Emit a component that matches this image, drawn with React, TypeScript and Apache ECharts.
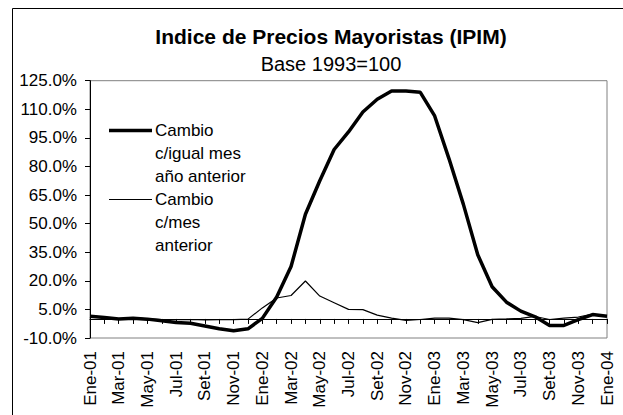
import React, { useEffect, useRef } from "react";
import * as echarts from "echarts";

const months: string[] = [
  "Ene-01", "Feb-01", "Mar-01", "Abr-01", "May-01", "Jun-01", "Jul-01", "Ago-01", "Set-01", "Oct-01", "Nov-01", "Dic-01",
  "Ene-02", "Feb-02", "Mar-02", "Abr-02", "May-02", "Jun-02", "Jul-02", "Ago-02", "Set-02", "Oct-02", "Nov-02", "Dic-02",
  "Ene-03", "Feb-03", "Mar-03", "Abr-03", "May-03", "Jun-03", "Jul-03", "Ago-03", "Set-03", "Oct-03", "Nov-03", "Dic-03",
  "Ene-04",
];

// Cambio c/igual mes año anterior (%)
const yearOverYear: number[] = [
  1.4, 0.7, 0.0, 0.4, -0.1, -0.9, -1.9, -2.3, -3.7, -5.1, -6.2, -5.2,
  0.3, 11.5, 27.5, 54.9, 72.5, 88.9, 98.1, 108.6, 115.3, 119.6, 119.6, 118.9,
  106.5, 84.0, 60.1, 33.7, 16.9, 8.8, 4.1, 1.1, -3.4, -3.4, -0.4, 2.3,
  1.4,
];

// Cambio c/mes anterior (%)
const monthOverMonth: number[] = [
  1.6, 0.8, 0.1, 0.7, 0.1, -0.3, -0.4, -0.3, -0.5, -0.4, -0.4, -0.1,
  5.8, 11.0, 12.3, 19.9, 12.0, 8.5, 5.0, 4.9, 2.0, 0.4, -0.8, -0.3,
  0.4, 0.4, -0.4, -1.9, -0.2, 0.0, 0.3, 1.3, -0.3, 0.4, 1.0, 2.5,
  1.2,
];

const seriesNames: string[] = ["Cambio\nc/igual mes\naño anterior", "Cambio\nc/mes\nanterior"];
const titleText = "Indice de Precios Mayoristas (IPIM)";
const subtitleText = "Base 1993=100";

const FONT = "'Liberation Sans', Arial, Helvetica, sans-serif";

export default function App() {
  const ref = useRef<HTMLDivElement>(null);

  useEffect(() => {
    if (!ref.current) return;
    const chart = echarts.init(ref.current, undefined, { renderer: "svg" });
    const option: any = {
      animation: false,
      backgroundColor: "#ffffff",
      textStyle: { fontFamily: FONT, color: "#000" },
      grid: {
        left: 90,
        right: 16,
        top: 80.7,
        bottom: 77,
        show: true,
        borderColor: "#808080",
        borderWidth: 1,
        backgroundColor: "transparent",
        outerBoundsMode: "none",
      },
      xAxis: [
        {
          type: "category",
          data: months,
          boundaryGap: false,
          position: "bottom",
          axisLine: { show: false, onZero: false },
          axisTick: { show: false },
          splitLine: { show: false },
          axisLabel: {
            interval: 1,
            rotate: 90,
            margin: 13,
            fontSize: 17,
            color: "#000",
            fontFamily: FONT,
          },
        },
        {
          type: "category",
          data: months,
          boundaryGap: false,
          position: "bottom",
          axisLine: { show: true, onZero: true, lineStyle: { color: "#000", width: 1 } },
          axisTick: { show: true, interval: 0, length: 5, lineStyle: { color: "#000", width: 1 } },
          axisLabel: { show: false },
          splitLine: { show: false },
        },
      ],
      yAxis: {
        type: "value",
        min: -10,
        max: 125,
        interval: 15,
        axisLine: { show: true, lineStyle: { color: "#000", width: 1 } },
        axisTick: { show: true, length: 5, lineStyle: { color: "#000" } },
        splitLine: { show: false },
        axisLabel: {
          formatter: (v: number) => v.toFixed(1) + "%",
          fontSize: 17,
          color: "#000",
          margin: 13,
          fontFamily: FONT,
        },
      },
      series: [
        {
          name: seriesNames[0],
          type: "line",
          xAxisIndex: 0,
          data: yearOverYear,
          symbol: "none",
          lineStyle: { color: "#000", width: 3.5 },
          z: 3,
        },
        {
          name: seriesNames[1],
          type: "line",
          xAxisIndex: 0,
          data: monthOverMonth,
          symbol: "none",
          lineStyle: { color: "#000", width: 1.2 },
          z: 4,
        },
      ],
      graphic: [
        {
          type: "rect",
          shape: { x: 12.5, y: 8.5, width: 640, height: 430 },
          style: { fill: "none", stroke: "#000", lineWidth: 1 },
          z: -1,
          silent: true,
        },
        {
          type: "text",
          x: 331,
          y: 36.5,
          style: {
            text: titleText,
            fontFamily: FONT,
            fontSize: 21,
            fontWeight: "bold",
            fill: "#000",
            align: "center",
            verticalAlign: "middle",
          },
        },
        {
          type: "text",
          x: 331,
          y: 63.5,
          style: {
            text: subtitleText,
            fontFamily: FONT,
            fontSize: 20,
            fill: "#000",
            align: "center",
            verticalAlign: "middle",
          },
        },
        {
          type: "line",
          shape: { x1: 109, y1: 130.5, x2: 152, y2: 130.5 },
          style: { stroke: "#000", lineWidth: 3.5 },
        },
        {
          type: "text",
          x: 155,
          y: 119,
          style: {
            text: seriesNames[0],
            fontFamily: FONT,
            fontSize: 17,
            lineHeight: 23,
            fill: "#000",
            align: "left",
            verticalAlign: "top",
          },
        },
        {
          type: "line",
          shape: { x1: 109, y1: 199.5, x2: 152, y2: 199.5 },
          style: { stroke: "#000", lineWidth: 1.2 },
        },
        {
          type: "text",
          x: 155,
          y: 188,
          style: {
            text: seriesNames[1],
            fontFamily: FONT,
            fontSize: 17,
            lineHeight: 23,
            fill: "#000",
            align: "left",
            verticalAlign: "top",
          },
        },
      ],
    };
    chart.setOption(option);
    return () => {
      chart.dispose();
    };
  }, []);

  return (
    <div
      ref={ref}
      style={{ position: "fixed", left: 0, top: 0, width: 623, height: 415, background: "#fff" }}
    />
  );
}
